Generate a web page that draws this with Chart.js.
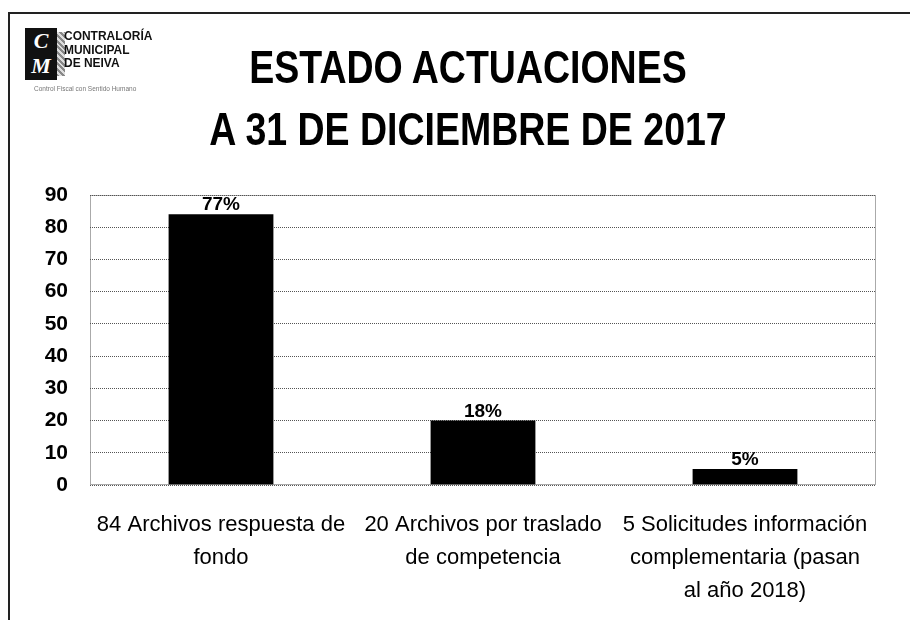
<!DOCTYPE html>
<html>
<head>
<meta charset="utf-8">
<script src="https://cdn.jsdelivr.net/npm/chart.js@4.4.1/dist/chart.umd.min.js"></script>
<style>
  html,body{margin:0;padding:0;background:#fff;}
  #wrap{position:relative;width:912px;height:620px;overflow:hidden;}
  #frame{position:absolute;left:8px;top:12px;width:900px;height:640px;border-top:2px solid #222;border-left:2px solid #222;}
  #logo{position:absolute;left:24px;top:28px;width:190px;height:70px;font-family:"Liberation Sans",sans-serif;}
  #logo .icon{position:absolute;left:1px;top:0;width:32px;height:52px;background:#111;color:#fff;font:bold italic 22px "Liberation Serif",serif;line-height:25px;text-align:center;}
  #logo .tex{position:absolute;left:33px;top:4px;width:8px;height:44px;background:repeating-linear-gradient(45deg,#888 0 2px,#ddd 2px 4px);}
  #logo .name{position:absolute;left:40px;top:1px;font-weight:bold;font-size:13px;line-height:13.5px;color:#111;transform:scaleX(0.92);transform-origin:0 0;}
  #logo .sub{position:absolute;left:10px;top:57px;font-size:6.5px;color:#777;white-space:nowrap;}
  #title{position:absolute;left:468px;top:36px;transform:translateX(-50%) scaleX(0.815);white-space:nowrap;text-align:center;font:bold 46px "Liberation Sans",sans-serif;line-height:62px;color:#000;}
  canvas{position:absolute;left:0;top:0;}
</style>
</head>
<body>
<div id="wrap">
  <div id="frame"></div>
  <canvas id="c" width="912" height="620"></canvas>
  <div id="logo">
    <div class="icon">C<br>M</div>
    <div class="tex"></div>
    <div class="name">CONTRALORÍA<br>MUNICIPAL<br>DE NEIVA</div>
    <div class="sub">Control Fiscal con Sentido Humano</div>
  </div>
  <div id="title"></div>
</div>
<script>
const titleLines = ['ESTADO ACTUACIONES', 'A 31 DE DICIEMBRE DE 2017'];
const categories = [
  ['84 Archivos respuesta de', 'fondo'],
  ['20 Archivos por traslado', 'de competencia'],
  ['5 Solicitudes información', 'complementaria (pasan', 'al año 2018)']
];
const values = [84, 20, 5];
const percentLabels = ['77%', '18%', '5%'];
const yTicks = [0, 10, 20, 30, 40, 50, 60, 70, 80, 90];

document.getElementById('title').innerHTML = titleLines.map(t => '<div>' + t + '</div>').join('');

const FONT = '"Liberation Sans",sans-serif';

const framePlugin = {
  id: 'frameAndLabels',
  afterDatasetsDraw(chart) {
    const ctx = chart.ctx, a = chart.chartArea;
    ctx.save();
    ctx.strokeStyle = '#555';
    ctx.lineWidth = 1;
    ctx.setLineDash([1, 1]);
    ctx.strokeRect(a.left + 0.5, a.top + 0.5, a.right - a.left - 1, a.bottom - a.top - 1);
    ctx.setLineDash([]);
    const meta = chart.getDatasetMeta(0);
    ctx.fillStyle = '#000';
    ctx.font = 'bold 19px ' + FONT;
    ctx.textAlign = 'center';
    ctx.textBaseline = 'alphabetic';
    meta.data.forEach((bar, i) => {
      ctx.fillText(percentLabels[i], bar.x, bar.y - 4);
    });
    ctx.restore();
  }
};

new Chart(document.getElementById('c'), {
  type: 'bar',
  data: {
    labels: categories,
    datasets: [{
      data: values,
      backgroundColor: '#000',
      borderWidth: 0,
      barPercentage: 0.8,
      categoryPercentage: 0.5
    }]
  },
  options: {
    responsive: false,
    animation: false,
    devicePixelRatio: 1,
    layout: { padding: { left: 20, right: 36, top: 195, bottom: 0 } },
    plugins: {
      legend: { display: false },
      tooltip: { enabled: false },
      title: { display: false }
    },
    scales: {
      x: {
        grid: { display: false },
        border: { display: false },
        ticks: {
          color: '#000',
          font: { family: FONT, size: 22, lineHeight: 1.5 },
          autoSkip: false,
          maxRotation: 0,
          minRotation: 0,
          padding: 15
        },
        afterFit(scale) { scale.height = 135; }
      },
      y: {
        min: 0,
        max: 90,
        afterBuildTicks(scale) { scale.ticks = yTicks.map(v => ({ value: v })); },
        grid: { color: '#555', lineWidth: 1, drawTicks: false },
        border: { display: false, dash: [1, 1] },
        ticks: {
          color: '#000',
          font: { family: FONT, size: 21, weight: 'bold' },
          padding: 22
        },
        afterFit(scale) { scale.width = 70; }
      }
    }
  },
  plugins: [framePlugin]
});
</script>
</body>
</html>
